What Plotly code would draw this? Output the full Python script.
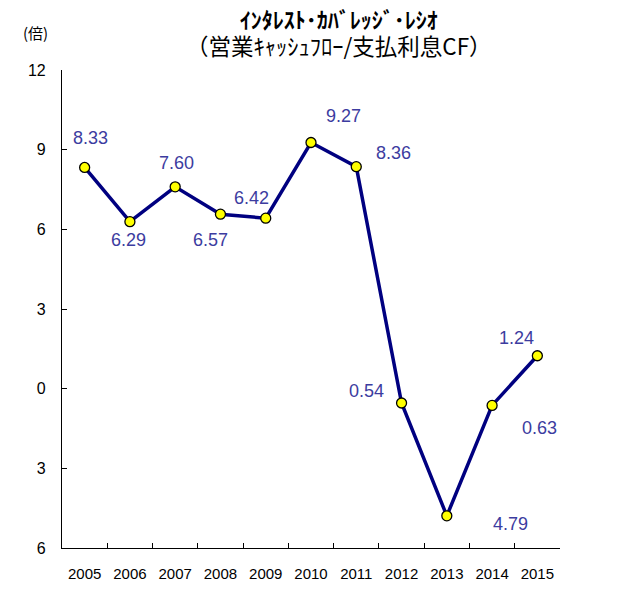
import plotly.graph_objects as go

years = ["2005", "2006", "2007", "2008", "2009", "2010", "2011", "2012", "2013", "2014", "2015"]
ratio = [8.33, 6.29, 7.60, 6.57, 6.42, 9.27, 8.36, -0.54, -4.79, -0.63, 1.24]
label_text = ["8.33", "6.29", "7.60", "6.57", "6.42", "9.27", "8.36", "0.54", "4.79", "0.63", "1.24"]
y_tickvals = [-6, -3, 0, 3, 6, 9, 12]
y_ticktext = ["6", "3", "0", "3", "6", "9", "12"]
title_line1 = "ｲﾝﾀﾚｽﾄ･ｶﾊﾞﾚｯｼﾞ･ﾚｼｵ"
title_line2 = "（営業ｷｬｯｼｭﾌﾛｰ/支払利息CF）"
unit_label = "(倍)"

# label offsets in px (style only)
lab_dx = [6, -1, 1, -10, -14, 32, 37, -35, 64, 47, -21]
lab_dy = [-29, 18, -24, 26, -20, -27, -14, -12, 8, 23, -18]

# page body adds an 8px offset; compensate
OFF = 8
W, H = 621, 590
ml = 62 - OFF
mt = 70 - OFF
plot_right = 560 - OFF
plot_bottom = 548 - OFF
mr = W - plot_right
mb = H - plot_bottom
pw, ph = W - ml - mr, H - mt - mb


def px2paper_x(px):
    return (px - OFF - ml) / pw


def px2paper_y(py):
    return (H - mb - (py - OFF)) / ph


fig = go.Figure()
fig.add_trace(go.Scatter(
    x=years, y=ratio, mode="lines+markers",
    line=dict(color="#000080", width=3.5),
    marker=dict(color="#ffff00", size=10, line=dict(color="#000000", width=1.3)),
    showlegend=False, hoverinfo="skip",
))

annotations = []
for i, (y, t, dx, dy) in enumerate(zip(ratio, label_text, lab_dx, lab_dy)):
    annotations.append(dict(
        x=i, y=y, xref="x", yref="y", text=t, showarrow=False,
        xanchor="center", yanchor="middle",
        xshift=dx, yshift=-dy,
        font=dict(family="Liberation Sans, Arial", size=18, color="#3c3ca0"),
    ))
title_text = ("<span style='font-size:22px'><b>" + title_line1 + "</b></span><br>"
              "<span style='font-size:22.5px'>" + title_line2 + "</span>")
annotations.append(dict(x=px2paper_x(339), y=px2paper_y(32), xref="paper", yref="paper",
                        xanchor="center", yanchor="middle", align="center",
                        text=title_text, showarrow=False,
                        font=dict(family="Noto Sans CJK JP", size=21, color="#000000")))
annotations.append(dict(x=px2paper_x(35), y=px2paper_y(33), xref="paper", yref="paper",
                        xanchor="center", yanchor="middle",
                        text=unit_label, showarrow=False,
                        font=dict(family="Noto Sans CJK JP", size=15, color="#000000")))

fig.update_xaxes(
    type="category", range=[-0.5, 10.5],
    showline=True, linecolor="#000000", linewidth=1.2,
    ticks="inside", ticklen=5, tickcolor="#000000", tickson="boundaries",
    showgrid=False, zeroline=False,
    tickfont=dict(family="Liberation Sans, Arial", size=15, color="#000000"),
    ticklabelstandoff=12,
)
fig.update_yaxes(
    range=[-6, 12], tickvals=y_tickvals, ticktext=y_ticktext,
    showline=True, linecolor="#000000", linewidth=1.2,
    ticks="inside", ticklen=5, tickcolor="#000000",
    showgrid=False, zeroline=False,
    tickfont=dict(family="Liberation Sans, Arial", size=16, color="#000000"),
    ticklabelstandoff=12,
)
fig.update_layout(
    width=W, height=H,
    margin=dict(l=ml, r=mr, t=mt, b=mb, pad=0),
    paper_bgcolor="#ffffff", plot_bgcolor="#ffffff",
    annotations=annotations,
)
fig.write_html("out.html")
